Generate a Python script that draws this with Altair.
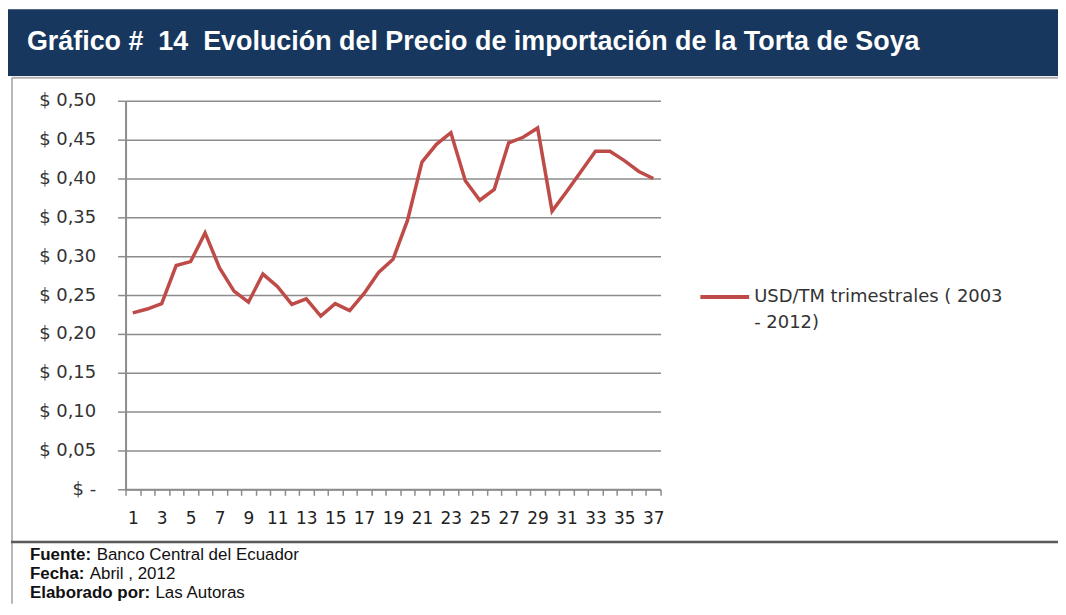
import altair as alt
import pandas as pd

# ---------------- data ----------------
periods = list(range(1, 38))
prices = [0.227, 0.232, 0.239, 0.288, 0.293, 0.330, 0.285, 0.255, 0.241, 0.277,
          0.261, 0.238, 0.245, 0.223, 0.239, 0.230, 0.252, 0.279, 0.296, 0.346,
          0.421, 0.444, 0.459, 0.397, 0.372, 0.386, 0.446, 0.453, 0.465, 0.358,
          0.383, 0.409, 0.435, 0.435, 0.423, 0.409, 0.400]
y_ticks = [0.0, 0.05, 0.10, 0.15, 0.20, 0.25, 0.30, 0.35, 0.40, 0.45, 0.50]
title_text = "Gráfico #  14  Evolución del Precio de importación de la Torta de Soya"
legend_lines = ["USD/TM trimestrales ( 2003", "- 2012)"]
footer_labels = ["Fuente:", "Fecha:", "Elaborado por:"]
footer_values = ["Banco Central del Ecuador", "Abril , 2012", "Las Autoras"]

df = pd.DataFrame({"period": periods, "price": prices})
one = pd.DataFrame({"k": [0]})

# ---------------- style ----------------
NAVY = "#17375E"
RED = "#BE4B48"
GRID = "#8C8C8C"
W_TOTAL, H_TOTAL = 1054, 597
PAD_L, PAD_T = 118, 92
W_PLOT, H_PLOT = 537, 390
PAD_R = W_TOTAL - PAD_L - W_PLOT
PAD_B = H_TOTAL - PAD_T - H_PLOT

# keep the double spaces visible in SVG
title_shown = title_text.replace("  ", "\u00a0 ")

line = alt.Chart(df).mark_line(color=RED, strokeWidth=3.5).encode(
    x=alt.X(
        "period:O",
        scale=alt.Scale(paddingInner=0, paddingOuter=0),
        axis=alt.Axis(
            title=None, labelAngle=0,
            labelExpr="datum.value % 2 == 1 ? datum.label : ''",
            tickBand="extent", tickSize=6, tickColor=GRID, tickWidth=1.5,
            domainColor=GRID, domainWidth=2,
            labelFont="DejaVu Sans", labelFontSize=17, labelColor="#222222",
            labelPadding=15, labelOverlap=False, grid=False,
        ),
    ),
    y=alt.Y(
        "price:Q",
        scale=alt.Scale(domain=[0, 0.5], nice=False),
        axis=alt.Axis(
            title=None, values=y_ticks,
            labelExpr="datum.value == 0 ? '$ -' : '$ ' + replace(format(datum.value, '.2f'), '.', ',')",
            grid=True, gridColor=GRID, gridWidth=1.5,
            tickSize=8, tickColor=GRID, tickWidth=1.5,
            domainColor=GRID, domainWidth=2,
            labelFont="DejaVu Sans", labelFontSize=18, labelColor="#333333",
            labelPadding=22,
        ),
    ),
)

base = alt.Chart(one)

title_bar = base.mark_rect(color=NAVY).encode(
    x=alt.value(-PAD_L), x2=alt.value(W_TOTAL - PAD_L),
    y=alt.value(-92), y2=alt.value(-25),
)
title = base.mark_text(
    align="left", baseline="middle", font="Liberation Sans",
    fontWeight="bold", fontSize=27, color="white",
).encode(x=alt.value(-99), y=alt.value(-59), text=alt.value(title_shown))

under_title = base.mark_rule(color="#B0B0B0", strokeWidth=2).encode(
    x=alt.value(-114), x2=alt.value(W_TOTAL - PAD_L), y=alt.value(-23)
)
left_border = base.mark_rule(color="#A0A0A0", strokeWidth=1.5).encode(
    x=alt.value(-114), y=alt.value(-23), y2=alt.value(H_TOTAL - PAD_T)
)
footer_sep = base.mark_rule(color="#5A5A5A", strokeWidth=2.5).encode(
    x=alt.value(-115), x2=alt.value(W_TOTAL - PAD_L), y=alt.value(443)
)

legend_sym = base.mark_rule(color=RED, strokeWidth=4).encode(
    x=alt.value(577), x2=alt.value(626), y=alt.value(197)
)
legend_txt = [
    base.mark_text(align="left", baseline="middle", font="DejaVu Sans",
                   fontSize=18, color="#333333").encode(
        x=alt.value(631), y=alt.value(197 + 26 * i), text=alt.value(t))
    for i, t in enumerate(legend_lines)
]

bold_w = [62, 55, 121]
footer_layers = []
for i, (lab, val) in enumerate(zip(footer_labels, footer_values)):
    yy = 456 + 19 * i
    footer_layers.append(base.mark_text(
        align="left", baseline="middle", font="Liberation Sans",
        fontWeight="bold", fontSize=17, color="#111111").encode(
        x=alt.value(-96), y=alt.value(yy), text=alt.value(lab)))
    footer_layers.append(base.mark_text(
        align="left", baseline="middle", font="Liberation Sans",
        fontSize=17, color="#111111").encode(
        x=alt.value(-96 + bold_w[i] + 5), y=alt.value(yy), text=alt.value(val)))

chart = alt.layer(
    title_bar, title, under_title, left_border, footer_sep,
    line, legend_sym, *legend_txt, *footer_layers,
).properties(
    width=W_PLOT, height=H_PLOT,
    autosize=alt.AutoSizeParams(type="none"),
    padding={"left": PAD_L, "top": PAD_T, "right": PAD_R, "bottom": PAD_B},
    background="white",
).configure_view(stroke=None)

chart.save("out.html", embed_options={"renderer": "svg", "actions": False})
